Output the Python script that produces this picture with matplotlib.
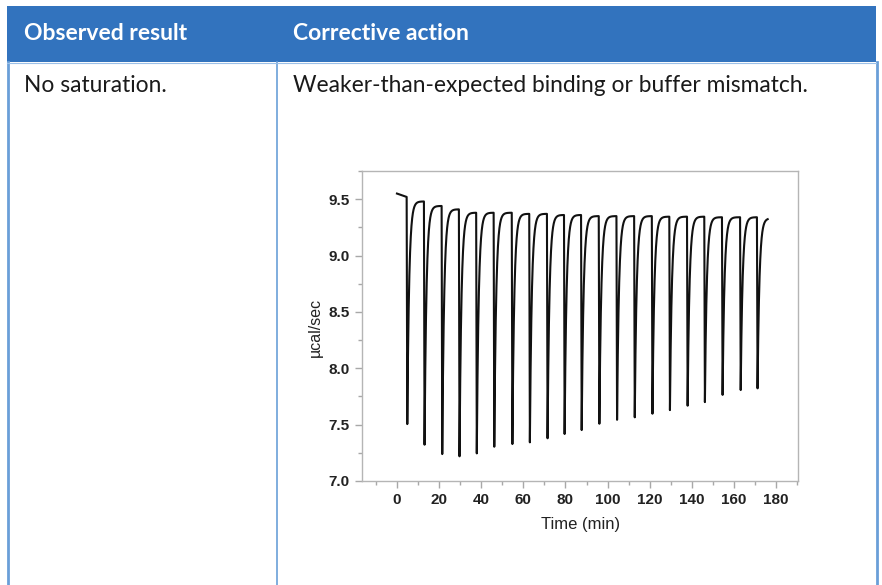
import matplotlib.pyplot as plt
import numpy as np
from matplotlib.patches import Rectangle
from matplotlib.lines import Line2D
from matplotlib.ticker import MultipleLocator

W, H = 882, 585

# injection times (min), minimum of each deflection and level reached before the next injection (ucal/sec)
inj_time = [4.6, 12.8, 21.2, 29.4, 37.6, 45.9, 54.5, 62.8, 71.2, 79.3, 87.4,
            95.8, 104.2, 112.6, 121.0, 129.3, 137.7, 145.9, 154.3, 162.9, 170.9]
peak_min = [7.505, 7.322, 7.239, 7.219, 7.245, 7.304, 7.328, 7.343, 7.379, 7.417, 7.452,
            7.508, 7.543, 7.565, 7.597, 7.629, 7.668, 7.700, 7.764, 7.807, 7.822]
plateau = [9.48, 9.44, 9.41, 9.38, 9.38, 9.38, 9.37, 9.37, 9.36, 9.36, 9.35,
           9.35, 9.35, 9.35, 9.345, 9.345, 9.345, 9.34, 9.34, 9.34, 9.33]
start_level = [9.55, 9.52]
end_time = 176.0

x_ticks = [0, 20, 40, 60, 80, 100, 120, 140, 160, 180]
y_ticks = [7.0, 7.5, 8.0, 8.5, 9.0, 9.5]

header_blue = '#3273be'
rule_blue = '#6a9fd8'

fig = plt.figure(figsize=(W / 100, H / 100), dpi=100)


def fx(px):
    return px / W


def fy(py):
    return 1 - py / H


# table header band and cell borders
fig.patches.append(Rectangle((fx(7), fy(62)), fx(876) - fx(7), fy(6) - fy(62),
                             transform=fig.transFigure, facecolor=header_blue,
                             edgecolor='none', zorder=0))
for x, lw in [(7.5, 2.0), (276.5, 1.2), (876.5, 2.0)]:
    fig.lines.append(Line2D([fx(x), fx(x)], [fy(62), 0], transform=fig.transFigure,
                            color=rule_blue, lw=lw))
fig.lines.append(Line2D([fx(7), fx(876)], [fy(62.5), fy(62.5)], transform=fig.transFigure,
                        color='#9cc0e8', lw=0.8))

fig.text(fx(24), fy(33), 'Observed result', color='white', fontsize=16.5,
         family='Lato', weight='bold', va='center', ha='left')
fig.text(fx(293), fy(33), 'Corrective action', color='white', fontsize=16.5,
         family='Lato', weight='bold', va='center', ha='left')
fig.text(fx(24), fy(85), 'No saturation.', color='#1a1a1a', fontsize=16.4,
         family='Lato', va='center', ha='left')
fig.text(fx(293), fy(85), 'Weaker-than-expected binding or buffer mismatch.',
         color='#1a1a1a', fontsize=16.4, family='Lato', va='center', ha='left')

# thermogram trace built from the injection list
tau = 0.9
drop = 0.3
t_all = [0.0, inj_time[0]]
v_all = [start_level[0], start_level[1]]
for i, t0 in enumerate(inj_time):
    t_next = inj_time[i + 1] if i + 1 < len(inj_time) else end_time
    m, p = peak_min[i], plateau[i]
    ts = np.linspace(t0 + drop, t_next, 120)
    vs = p - (p - m) * np.exp(-(ts - t0 - drop) / tau)
    t_all.extend(ts)
    v_all.extend(vs)

ax = fig.add_axes([fx(362), fy(481), fx(798) - fx(362), fy(171) - fy(481)])
ax.plot(t_all, v_all, color='#111111', lw=1.5, solid_joinstyle='round')

ax.set_xlim(-16.6, 190.4)
ax.set_ylim(7.0, 9.75)
ax.set_xticks(x_ticks)
ax.set_yticks(y_ticks)
ax.set_yticklabels(['%.1f' % v for v in y_ticks])
ax.xaxis.set_minor_locator(MultipleLocator(10))
ax.yaxis.set_minor_locator(MultipleLocator(0.25))

for s in ax.spines.values():
    s.set_color('#b5b5b5')
    s.set_linewidth(1.0)
ax.tick_params(which='major', direction='out', length=5, width=1, color='#a8a8a8',
               labelsize=11, labelcolor='#222222', pad=4)
ax.tick_params(which='minor', direction='out', length=3, width=1, color='#a8a8a8')
for lab in ax.get_xticklabels() + ax.get_yticklabels():
    lab.set_fontweight('bold')
    lab.set_family('Liberation Sans')

fig.text(fx(315), fy(327), 'µcal/sec', rotation=90, fontsize=11.5, family='Liberation Sans',
         color='#222222', ha='center', va='center')
fig.text(fx(581), fy(525), 'Time (min)', fontsize=12, family='Liberation Sans',
         color='#222222', ha='center', va='center')

fig.savefig('out.png', dpi=100)
